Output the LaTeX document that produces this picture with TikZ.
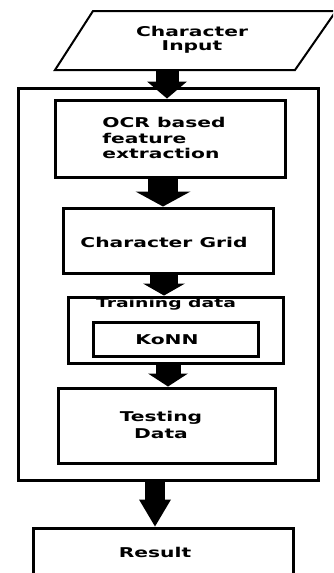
\documentclass[tikz,border=0pt]{standalone}
\usepackage{fontspec}
\newfontfamily\lab{DejaVu Sans}[FakeStretch=1.5]
\usetikzlibrary{arrows.meta}
\begin{document}
\begin{tikzpicture}[x=1pt,y=-1pt,
  box/.style={draw, line width=3pt, rectangle, inner sep=0pt, align=center,
    font=\lab\bfseries\fontsize{13.5}{15}\selectfont},
  lbl/.style={inner sep=0pt, align=center, font=\lab\bfseries\fontsize{13.5}{14}\selectfont},
  blockarrow/.style n args={3}{draw, line width=#1,
    -{Triangle[length=#3, width=#2, line width=0pt]}}
]
\clip (0,0) rectangle (333,573);
\fill[white] (0,0) rectangle (333,573);
% input parallelogram
\draw[line width=2pt] (93,11) -- (336,11) -- (295,70) -- (55,70) -- cycle;
\node[lbl] (inp) at (192,40) {Character\\Input};
\coordinate (inbot) at (167,70);
% outer frame
\node[box, minimum width=300pt, minimum height=392pt] (outer) at (168,284) {};
% inner boxes
\node[box, minimum width=230pt, minimum height=77pt] (ocr) at (170,138.5) {};
\node[lbl, align=left, font=\lab\bfseries\fontsize{13.5}{15.5}\selectfont] (ocrlbl) at (164,138) {OCR based\\feature\\extraction};
\node[box, minimum width=210pt, minimum height=65pt] (grid) at (168,240.5) {};
\node[lbl] (gridlbl) at (164,242) {Character Grid};
\node[box, minimum width=215pt, minimum height=66pt] (train) at (175.5,330) {};
\node[lbl, font=\lab\bfseries\fontsize{12.5}{13}\selectfont] (trainlbl) at (166,304) {Training data};
\node[box, minimum width=165pt, minimum height=34pt] (konn) at (175.5,339) {};
\node[lbl] (konnlbl) at (167,340) {KoNN};
\node[box, minimum width=217pt, minimum height=75pt] (test) at (166.5,425.5) {};
\node[lbl, font=\lab\bfseries\fontsize{13.5}{17}\selectfont] (testlbl) at (161,425) {Testing\\Data};
\node[box, minimum width=260pt, minimum height=47pt] (res) at (163,551.5) {};
\node[lbl] (reslbl) at (155,552) {Result};
% block arrows
\draw[blockarrow={23pt}{40pt}{17pt}] (inbot) -- (inbot |- ocr.north);
\coordinate (a2) at (163,0);
\draw[blockarrow={30pt}{55pt}{15pt}] (a2 |- ocr.south) -- (a2 |- grid.north);
\coordinate (a3) at (164,0);
\draw[blockarrow={28pt}{42pt}{12pt}] (a3 |- grid.south) -- (a3 |- train.north);
\coordinate (a4) at (168,0);
\draw[blockarrow={25pt}{40pt}{13pt}] (a4 |- train.south) -- (a4 |- test.north);
\coordinate (a5) at (155,0);
\draw[blockarrow={20pt}{32pt}{27pt}] (a5 |- outer.south) -- (a5 |- res.north);
\end{tikzpicture}
\end{document}
